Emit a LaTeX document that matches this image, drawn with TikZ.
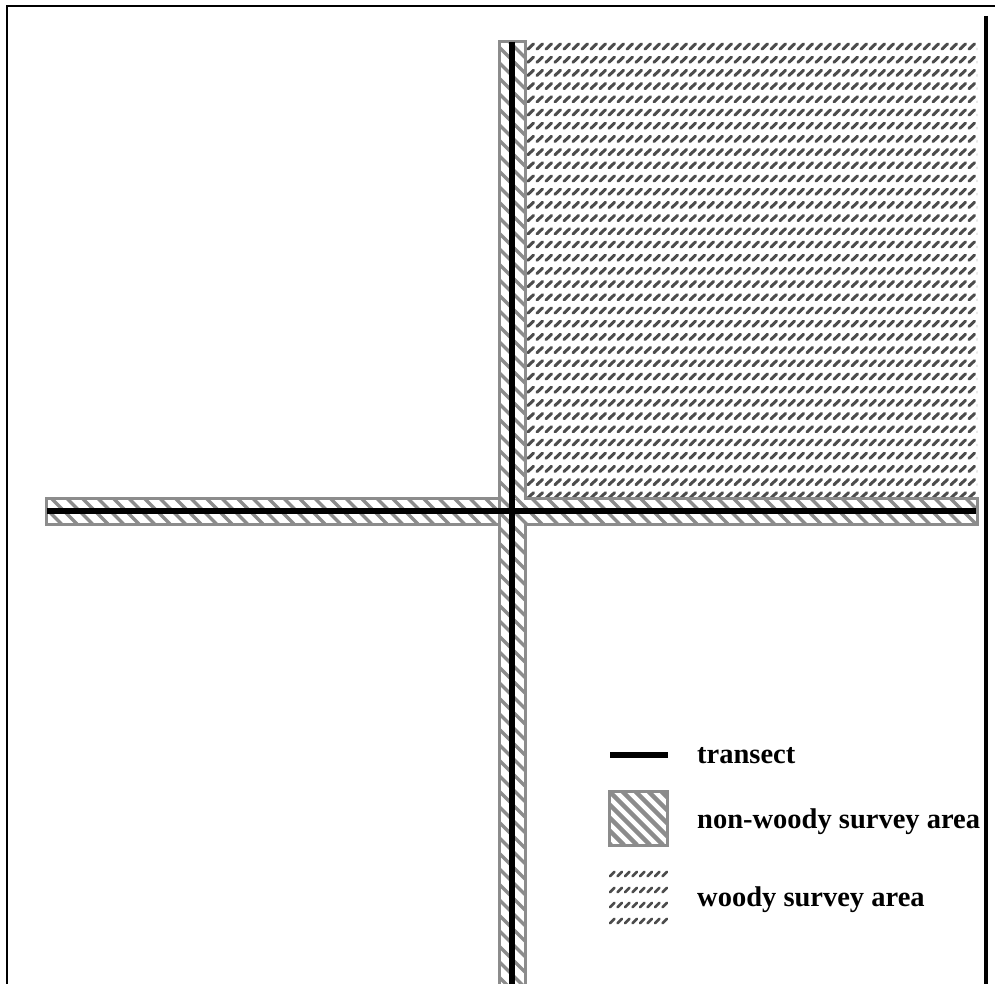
\documentclass[tikz,border=0pt]{standalone}
\usepackage{fontspec}
\setmainfont{Liberation Serif}
\begin{document}
\begin{tikzpicture}[x=1pt,y=-1pt,
  frameline/.style={line width=2.5pt,black},
  transectline/.style={line width=6pt,black},
  bandborder/.style={draw=black!45,line width=3pt},
  stripe/.style={black!45,line width=3.5pt},
  woodydash/.style={black!70,line width=3pt,line cap=round},
  legenddash/.style={black!70,line width=2.6pt,line cap=round},
  legendtext/.style={font=\fontsize{28.5}{34}\selectfont\bfseries,anchor=base west,inner sep=0pt}]
\useasboundingbox (0,0) rectangle (995,984);
\fill[white] (0,0) rectangle (995,984);
% frame
\coordinate (ftl) at (7,6);
\coordinate (ftr) at (995,6);
\coordinate (fbl) at (7,984);
\coordinate (rt) at (986,16);
\coordinate (rb) at (986,984);
\draw[frameline] (ftr) -- (ftl) -- (fbl);
\draw[line width=4pt] (rt) -- (rb);
% woody survey area
\begin{scope}
\clip (525,42) rectangle (977,497);
\foreach \i in {0,...,34} {
  \pgfmathsetmacro{\yy}{46.5+13.2*\i}
  \foreach \j in {0,...,50} {
    \pgfmathsetmacro{\xx}{528+9*\j}
    \draw[woodydash] (\xx,\yy+2.6) -- (\xx+5.5,\yy-2.6);
  }
}
\end{scope}
% vertical non-woody band
\fill[white] (499,42) rectangle (525,984);
\begin{scope}
\clip (499,42) rectangle (525,984);
\foreach \k in {0,...,62} {
  \draw[stripe] (499,16+15.5*\k) -- (525,42+15.5*\k);
}
\end{scope}
% horizontal non-woody band
\fill[white] (46,498) rectangle (977,524);
\begin{scope}
\clip (46,498) rectangle (977,524);
\foreach \k in {0,...,62} {
  \draw[stripe] (20+15.5*\k,498) -- (46+15.5*\k,524);
}
\end{scope}
\draw[bandborder] (499,984) -- (499,498) -- (46,498) -- (46,524) -- (499,524) -- (499,984);
\draw[bandborder] (525,984) -- (525,524) -- (977,524) -- (977,498) -- (525,498) -- (525,42) -- (499,42) -- (499,498);
% transects
\coordinate (vt) at (512,42);
\coordinate (vb) at (512,984);
\coordinate (hl) at (47,511);
\coordinate (hr) at (976,511);
\draw[transectline] (vt) -- (vb);
\draw[transectline] (hl) -- (hr);
% legend: transect
\coordinate (lt1) at (610,755);
\coordinate (lt2) at (668,755);
\draw[transectline] (lt1) -- (lt2);
\node[legendtext] (ltr) at (697,763) {transect};
% legend: non-woody
\fill[white] (609,791) rectangle (667,845);
\begin{scope}
\clip (609,791) rectangle (667,845);
\foreach \k in {-6,...,6} {
  \draw[black!45,line width=4.5pt] (609+13*\k,791) -- (663+13*\k,845);
}
\end{scope}
\draw[bandborder] (609,791) rectangle (667,845);
\node[legendtext] (lnw) at (697,828) {non-woody survey area};
% legend: woody
\foreach \yy in {874,890,905,921} {
  \foreach \j in {0,...,7} {
    \pgfmathsetmacro{\xx}{610+7.5*\j}
    \draw[legenddash] (\xx,\yy+2.2) -- (\xx+4.5,\yy-2.2);
  }
}
\node[legendtext] (lw) at (697,906) {woody survey area};
\end{tikzpicture}
\end{document}
